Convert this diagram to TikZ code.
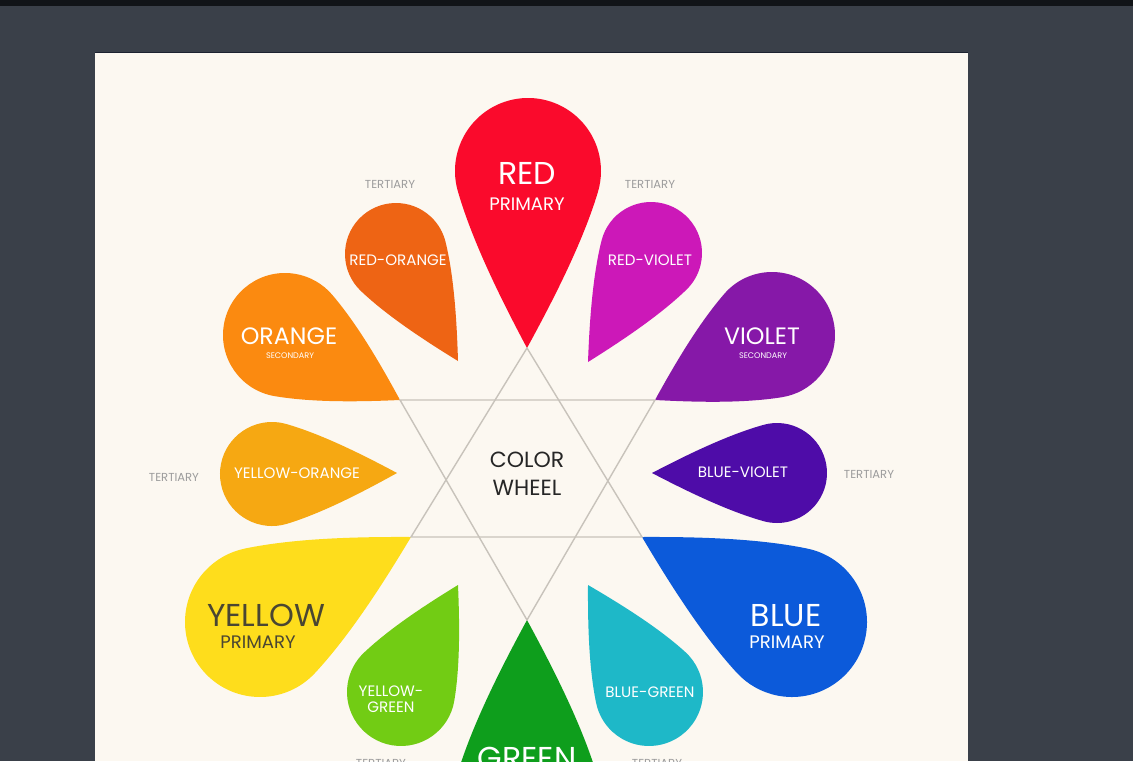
\documentclass[tikz,border=0pt]{standalone}
\usepackage{fontspec}
\setmainfont{Poppins}
\usetikzlibrary{calc}
\definecolor{backdrop}{HTML}{3A4049}
\definecolor{topband}{HTML}{111418}
\definecolor{paper}{HTML}{FCF8F1}
\definecolor{panelline}{HTML}{1C2230}
\definecolor{starline}{HTML}{C8C3BB}
\definecolor{notegray}{HTML}{9C9C9C}
\definecolor{redc}{HTML}{FA0A2C}
\definecolor{redorangec}{HTML}{EE6414}
\definecolor{orangec}{HTML}{FB8A10}
\definecolor{yelloworangec}{HTML}{F6A812}
\definecolor{yellowc}{HTML}{FEDD1C}
\definecolor{yellowgreenc}{HTML}{72CC14}
\definecolor{greenc}{HTML}{0E9E1C}
\definecolor{bluegreenc}{HTML}{1EB8C8}
\definecolor{bluec}{HTML}{0C5ADA}
\definecolor{bluevioletc}{HTML}{4E0CA8}
\definecolor{violetc}{HTML}{8618A8}
\definecolor{redvioletc}{HTML}{CC18B8}
\definecolor{yellowtext}{HTML}{4A4632}
\newcommand{\petal}[7]{%
  \pgfmathsetmacro\pdist{veclen(#6-#3,#7-#4)}%
  \pgfmathsetmacro\pang{atan2(#7-#4,#6-#3)}%
  \pgfmathsetmacro\ptip{asin(#5/\pdist)+4}%
  \pgfmathsetmacro\pjoin{acos(#5/\pdist)+8}%
  \pgfmathsetmacro\plen{0.3*\pdist}%
  \coordinate (#1) at (#6,#7);
  \coordinate (#1-c) at (#3,#4);
  \fill[#2] (#1) .. controls ($(#1)+(\pang+180-\ptip:\plen)$) and ($(#1-c)+(\pang+\pjoin:#5)+(\pang+\pjoin-90:\plen)$) .. ($(#1-c)+(\pang+\pjoin:#5)$)
    arc[start angle=\pang+\pjoin, end angle=\pang-\pjoin+360, radius=#5]
    .. controls ($(#1-c)+(\pang-\pjoin:#5)+(\pang-\pjoin+90:\plen)$) and ($(#1)+(\pang+180+\ptip:\plen)$) .. (#1) -- cycle;
}
\begin{document}
\begin{tikzpicture}[x=0.02cm,y=-0.02cm,
  prim/.style={text=white,font=\fontsize{18}{18}\selectfont},
  primsub/.style={text=white,font=\fontsize{10.3}{11}\selectfont},
  sec/.style={text=white,font=\fontsize{13.5}{14}\selectfont},
  secsub/.style={text=white,font=\fontsize{4.6}{5}\selectfont},
  tert/.style={text=white,font=\fontsize{8.6}{9}\selectfont},
  note/.style={text=notegray,font=\fontsize{6.6}{7}\selectfont},
  hub/.style={text=black!85,align=center,font=\fontsize{12.5}{15.8}\selectfont}]
\useasboundingbox (0,0) rectangle (1133,761);
\fill[backdrop] (0,0) rectangle (1133,761);
\fill[topband] (0,0) rectangle (1133,6);
\fill[paper] (95,53) rectangle (968,761);
\draw[panelline,line width=1.1pt] (95,52.5) -- (968,52.5);
\clip (95,53) rectangle (968,761);

\petal{red}{redc}{528}{171}{73}{527}{348}
\petal{redorange}{redorangec}{396}{254}{51}{458}{361}
\petal{redviolet}{redvioletc}{651}{253}{51}{588}{362}
\petal{orange}{orangec}{285}{335}{62}{400}{400}
\petal{violet}{violetc}{772}{335}{63}{655}{400}
\petal{yelloworange}{yelloworangec}{272}{474}{52}{397}{473}
\petal{blueviolet}{bluevioletc}{777}{473}{50}{652}{473}
\petal{yellow}{yellowc}{260}{622}{75}{411}{537}
\petal{blue}{bluec}{792}{622}{75}{642}{537}
\petal{yellowgreen}{yellowgreenc}{401}{692}{54}{458}{585}
\petal{bluegreen}{bluegreenc}{649}{692}{54}{588}{585}
\petal{green}{greenc}{527}{796}{73}{527}{620}

\draw[starline,line width=0.8pt] (red) -- (yellow) -- (blue) -- cycle;
\draw[starline,line width=0.8pt] (orange) -- (violet) -- (green) -- cycle;

\node[hub] (hub) at (527,474) {COLOR\\WHEEL};

\node[prim] (red-t) at (527,173) {RED};
\node[primsub] (red-s) at (527,204) {PRIMARY};
\node[prim,text=yellowtext] (yellow-t) at (266,615) {YELLOW};
\node[primsub,text=yellowtext] (yellow-s) at (258,642) {PRIMARY};
\node[prim] (blue-t) at (786,616) {BLUE};
\node[primsub] (blue-s) at (787,642) {PRIMARY};
\node[prim] (green-t) at (527,758) {GREEN};

\node[sec] (orange-t) at (289,336) {ORANGE};
\node[secsub] (orange-s) at (290,356) {SECONDARY};
\node[sec] (violet-t) at (762,336) {VIOLET};
\node[secsub] (violet-s) at (763,356) {SECONDARY};

\node[tert] (redorange-t) at (398,260) {RED-ORANGE};
\node[tert] (redviolet-t) at (650,260) {RED-VIOLET};
\node[tert] (yelloworange-t) at (297,473) {YELLOW-ORANGE};
\node[tert] (blueviolet-t) at (743,472) {BLUE-VIOLET};
\node[tert,align=center,font=\fontsize{8.6}{9.2}\selectfont] (yellowgreen-t) at (391,699) {YELLOW-\\GREEN};
\node[tert] (bluegreen-t) at (650,692) {BLUE-GREEN};

\node[note] (redorange-n) at (390,184) {TERTIARY};
\node[note] (redviolet-n) at (650,184) {TERTIARY};
\node[note] (yelloworange-n) at (174,477) {TERTIARY};
\node[note] (blueviolet-n) at (869,474) {TERTIARY};
\node[note] (yellowgreen-n) at (381,763) {TERTIARY};
\node[note] (bluegreen-n) at (657,763) {TERTIARY};
\end{tikzpicture}
\end{document}
